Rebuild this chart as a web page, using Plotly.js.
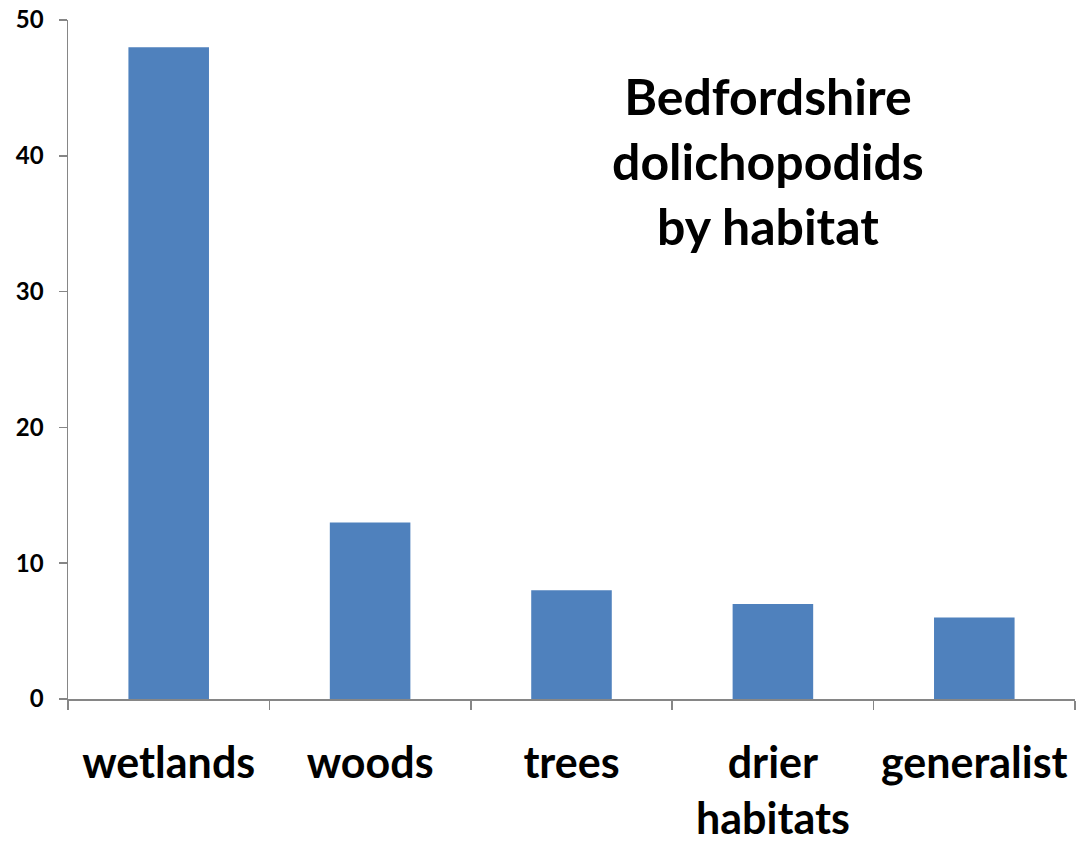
<!DOCTYPE html>
<html>
<head>
<meta charset="utf-8">
<script src="https://cdn.plot.ly/plotly-3.0.1.min.js"></script>
<style>html,body{margin:0;padding:0;background:#fff;}#chart{width:1077px;height:843px;}</style>
</head>
<body>
<div id="chart"></div>
<script>
const categories = ["wetlands", "woods", "trees", "drier<br>habitats", "generalist"];
const counts = [48, 13, 8, 7, 6];
const yTicks = [0, 10, 20, 30, 40, 50];
const titleText = "Bedfordshire<br>dolichopodids<br>by habitat";

const FONT = "Lato, 'Open Sans', sans-serif";

Plotly.newPlot("chart", [{
  type: "bar",
  x: categories,
  y: counts,
  marker: {color: "#4F81BD"},
  hoverinfo: "x+y"
}], {
  width: 1077, height: 843,
  margin: {l: 68, r: 2, t: 20, b: 144},
  paper_bgcolor: "#fff", plot_bgcolor: "#fff",
  bargap: 0.6,
  showlegend: false,
  font: {family: FONT, color: "#000"},
  xaxis: {
    type: "category",
    showline: true, linecolor: "#868686", linewidth: 1.5,
    ticks: "outside", tickson: "boundaries", ticklen: 9, tickcolor: "#868686", tickwidth: 1.5,
    tickfont: {family: FONT, size: 43, weight: "bold", color: "#000"},
    ticklabelstandoff: 26,
    showgrid: false, zeroline: false
  },
  yaxis: {
    range: [0, 50],
    tickvals: yTicks,
    showline: true, linecolor: "#868686", linewidth: 1.5,
    ticks: "outside", ticklen: 8, tickcolor: "#868686", tickwidth: 1.5,
    tickfont: {family: FONT, size: 24, weight: "bold", color: "#000"},
    ticklabelstandoff: 10,
    showgrid: false, zeroline: false
  },
  annotations: [{
    xref: "paper", yref: "paper",
    x: 0.695, y: 0.792,
    xanchor: "center", yanchor: "middle",
    text: titleText,
    showarrow: false,
    align: "center",
    font: {family: FONT, size: 50, weight: "bold", color: "#000"}
  }]
}, {displayModeBar: false, staticPlot: true});
</script>
</body>
</html>
